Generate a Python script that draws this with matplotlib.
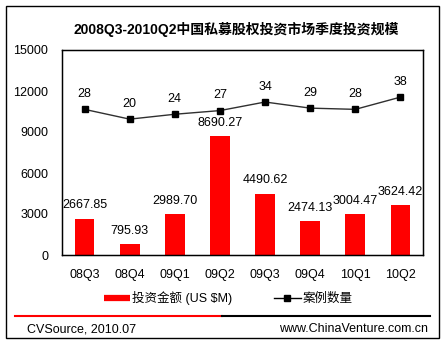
import matplotlib.pyplot as plt
from matplotlib.lines import Line2D
from matplotlib.patches import Rectangle

plt.rcParams['font.family'] = ['Liberation Sans', 'Noto Sans CJK SC', 'DejaVu Sans']
plt.rcParams['font.size'] = 9

# data
quarters = ["08Q3", "08Q4", "09Q1", "09Q2", "09Q3", "09Q4", "10Q1", "10Q2"]
amount = [2667.85, 795.93, 2989.70, 8690.27, 4490.62, 2474.13, 3004.47, 3624.42]
cases = [28, 20, 24, 27, 34, 29, 28, 38]
yticks = [0, 3000, 6000, 9000, 12000, 15000]

fig = plt.figure(figsize=(4.46, 3.45), dpi=100)
W, H = 446, 345

ax = fig.add_axes([62 / W, 1 - 255 / H, 361 / W, 205 / H])
x = list(range(len(quarters)))
ax.bar(x, amount, width=0.44, color='#ff0000', zorder=2)
for xi, v in zip(x, amount):
    ax.annotate(f"{v:.2f}", (xi, v), xytext=(0, 9.5), textcoords='offset points',
                ha='center', va='center', fontsize=9)
ax.set_xlim(-0.5, len(quarters) - 0.5)
ax.set_ylim(0, 15000)
ax.set_yticks(yticks)
ax.set_yticklabels([str(t) for t in yticks])
ax.set_xticks(x)
ax.set_xticklabels(quarters)
ax.tick_params(axis='y', length=0, pad=10)
ax.tick_params(axis='x', length=0, pad=10)
for s in ax.spines.values():
    s.set_linewidth(1)

# case counts on a hidden secondary axis
ax2 = ax.twinx()
ax2.plot(x, cases, color='#303030', lw=1, marker='s', markersize=5,
         markerfacecolor='black', markeredgecolor='black', zorder=3)
for xi, v in zip(x, cases):
    ax2.annotate(str(v), (xi, v), xytext=(0, 11), textcoords='offset points',
                 ha='center', va='center', fontsize=9)
ax2.set_ylim(-91, 76.5)
ax2.set_yticks([])
ax2.set_xlim(-0.5, len(quarters) - 0.5)

fig.text(236 / W, 1 - 29 / H, "2008Q3-2010Q2中国私募股权投资市场季度投资规模",
         ha='center', va='center', fontsize=10, fontweight='bold')

handles = [Line2D([], [], color='#ff0000', lw=4.5, solid_capstyle='butt'),
           Line2D([], [], color='black', lw=1, marker='s', markersize=5)]
fig.legend(handles, ["投资金额 (US $M)", "案例数量"], loc='center',
           bbox_to_anchor=(228 / W, 1 - 298 / H), ncol=2, frameon=False,
           handlelength=2.1, handletextpad=0.15, columnspacing=3.4, fontsize=9)

# footer rule and credits
fig.add_artist(Line2D([15 / W, 222 / W], [1 - 316 / H] * 2, color='#ff0000', lw=1.5))
fig.add_artist(Line2D([222 / W, 430 / W], [1 - 316 / H] * 2, color='black', lw=1.5))
fig.text(27 / W, 1 - 329 / H, "CVSource, 2010.07", ha='left', va='center', fontsize=9)
fig.text(428 / W, 1 - 329 / H, "www.ChinaVenture.com.cn", ha='right', va='center', fontsize=9)

fig.add_artist(Rectangle((6 / W, 1 - 338 / H), 433 / W, 332 / H, transform=fig.transFigure,
                         fill=False, edgecolor='black', lw=1))

fig.savefig("out.png", dpi=100)
